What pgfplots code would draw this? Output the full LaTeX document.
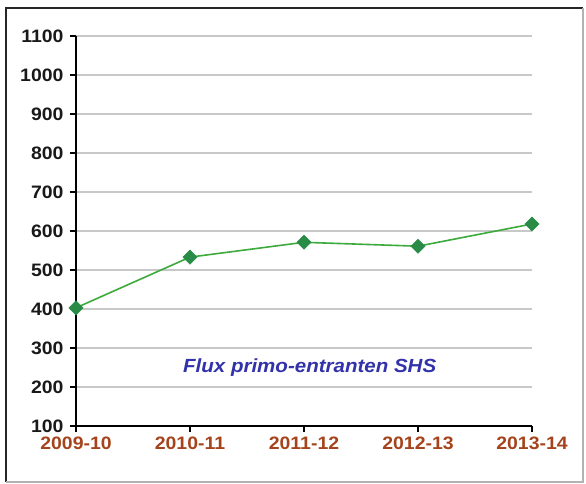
\documentclass[border=0pt]{standalone}
\usepackage{pgfplots}
\pgfplotsset{compat=1.18}
\usepackage{fontspec}
\setmainfont{Liberation Sans}[FakeStretch=1.08]
\definecolor{tickbrown}{RGB}{165,68,28}
\definecolor{linegreen}{RGB}{60,170,60}
\definecolor{markgreen}{RGB}{40,140,70}
\definecolor{titleblue}{RGB}{50,50,170}
\definecolor{gridgray}{RGB}{200,200,200}
\begin{document}
\begin{tikzpicture}[x=1pt,y=1pt]
\fill[white] (-76,-58) rectangle (510,426);
\draw[black!85,line width=1.4pt] (-70,-56) -- (-70,418) -- (507,418);
\draw[black!30,line width=1.2pt] (-70,-56) -- (507,-56) -- (507,418);
\begin{axis}[
  at={(0,0)}, anchor=south west,
  scale only axis, width=456pt, height=390pt,
  xmin=0, xmax=4, ymin=100, ymax=1100,
  xtick={0,1,2,3,4},
  xticklabels={2009-10,2010-11,2011-12,2012-13,2013-14},
  ytick={100,200,...,1100},
  axis x line*=bottom, axis y line*=left,
  axis line style={black, line width=1.8pt, -},
  tick style={black, line width=1.4pt},
  tick align=outside, major tick length=6pt,
  ymajorgrids, grid style={gridgray, line width=1.2pt},
  yticklabel style={font=\fontsize{18}{20}\selectfont\bfseries, text=black!90, xshift=-3pt},
  xticklabel style={font=\fontsize{18}{20}\selectfont\bfseries, text=tickbrown, yshift=-1pt},
  /pgf/number format/assume math mode=true,
  /pgf/number format/1000 sep={},
  clip=false,
]
\addplot[linegreen, line width=1.6pt, mark=square*, mark size=5pt,
  mark options={fill=markgreen, draw=markgreen, line width=0.5pt, rotate=45}]
  coordinates {(0,403) (1,533) (2,571) (3,561) (4,618)};
\node[font=\fontsize{19}{21}\selectfont\bfseries\itshape, text=titleblue]
  at (axis cs:2.05,249) {Flux primo-entranten SHS};
\end{axis}
\end{tikzpicture}
\end{document}
